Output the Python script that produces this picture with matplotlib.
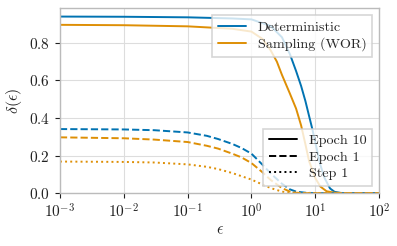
import numpy as np
import matplotlib
matplotlib.use("Agg")
import matplotlib.pyplot as plt
import seaborn as sns
from matplotlib.lines import Line2D

sns.set_style("whitegrid")
plt.rcParams["font.family"] = "serif"
plt.rcParams["font.serif"] = ["cmr10"]
plt.rcParams["mathtext.fontset"] = "cm"
plt.rcParams["axes.formatter.use_mathtext"] = True
plt.rcParams["font.size"] = 10.2

# values
eps_det10 = [1e-3, 1e-2, 0.1, 0.5, 1, 2, 3, 4, 5, 6, 7, 8, 9, 10, 12, 14, 17, 20, 25, 30, 100]
det_epoch10 = [0.940, 0.939, 0.936, 0.930, 0.925, 0.89, 0.83, 0.74, 0.65, 0.57, 0.49,
               0.41, 0.34, 0.27, 0.15, 0.08, 0.025, 0.007, 0.001, 0.0, 0.0]

eps_wor10 = [1e-3, 1e-2, 0.1, 0.5, 1, 1.5, 2, 2.5, 3, 4, 5, 6, 7, 8, 10, 12, 15, 20, 30, 100]
wor_epoch10 = [0.896, 0.894, 0.888, 0.875, 0.86, 0.82, 0.76, 0.70, 0.63, 0.53, 0.45,
               0.36, 0.26, 0.17, 0.08, 0.035, 0.01, 0.002, 0.0, 0.0]

eps_low = [1e-3, 1e-2, 0.03, 0.1, 0.2, 0.3, 0.5, 0.7, 1, 1.5, 2, 3, 4, 5, 7, 10, 100]
det_epoch1 = [0.341, 0.339, 0.335, 0.323, 0.305, 0.288, 0.262, 0.24, 0.21, 0.15, 0.105,
              0.05, 0.02, 0.008, 0.002, 0.0, 0.0]
wor_epoch1 = [0.297, 0.292, 0.285, 0.272, 0.252, 0.237, 0.21, 0.19, 0.16, 0.11, 0.07,
              0.027, 0.008, 0.002, 0.0, 0.0, 0.0]
step1 = [0.168, 0.166, 0.163, 0.153, 0.14, 0.128, 0.107, 0.09, 0.072, 0.045, 0.027,
         0.008, 0.002, 0.0, 0.0, 0.0, 0.0]

blue = "#0173B2"
orange = "#DE8F05"

fig = plt.figure(figsize=(3.97, 2.46), dpi=100)
ax = fig.add_axes([0.151, 0.215, 0.804, 0.752])

ax.plot(eps_det10, det_epoch10, color=blue, lw=1.4, ls="-")
ax.plot(eps_wor10, wor_epoch10, color=orange, lw=1.4, ls="-")
ax.plot(eps_low, det_epoch1, color=blue, lw=1.4, ls="--")
ax.plot(eps_low, wor_epoch1, color=orange, lw=1.4, ls="--")
# step 1 is the same for both methods; orange sits on top
ax.plot(eps_low, step1, color=orange, lw=1.4, ls=":")

ax.set_xscale("log")
ax.set_xlim(1e-3, 1e2)
ax.set_ylim(0, 0.985)
ax.set_yticks([0.0, 0.2, 0.4, 0.6, 0.8])
ax.xaxis.set_minor_locator(matplotlib.ticker.NullLocator())
ax.tick_params(axis="both", which="major", direction="out", length=3.5, width=0.8,
               bottom=True, left=True, color="#222222", labelcolor="#222222",
               labelsize=11)
ax.grid(True, color="#dddddd", lw=0.8)
for s in ax.spines.values():
    s.set_color("#bbbbbb")
    s.set_linewidth(1.0)

ax.set_xlabel(r"$\epsilon$", color="#222222", labelpad=2, fontsize=11.5)
ax.set_ylabel(r"$\delta(\epsilon)$", color="#222222", fontsize=11.5)

# colour legend (method)
h1 = [Line2D([], [], color=blue, lw=1.4), Line2D([], [], color=orange, lw=1.4)]
leg1 = ax.legend(h1, ["Deterministic", "Sampling (WOR)"], loc="upper right",
                 borderaxespad=0.5, handlelength=2.0, labelspacing=0.25,
                 fancybox=False, framealpha=0.8, edgecolor="#cccccc")
leg1.get_frame().set_linewidth(1.2)
ax.add_artist(leg1)

# style legend (checkpoint)
h2 = [Line2D([], [], color="k", lw=1.4, ls="-"),
      Line2D([], [], color="k", lw=1.4, ls="--"),
      Line2D([], [], color="k", lw=1.4, ls=":")]
leg2 = ax.legend(h2, ["Epoch 10", "Epoch 1", "Step 1"], loc="lower right",
                 borderaxespad=0.5, handlelength=2.0, labelspacing=0.25,
                 fancybox=False, framealpha=0.8, edgecolor="#cccccc")
leg2.get_frame().set_linewidth(1.2)

fig.savefig("out.png", dpi=100)
